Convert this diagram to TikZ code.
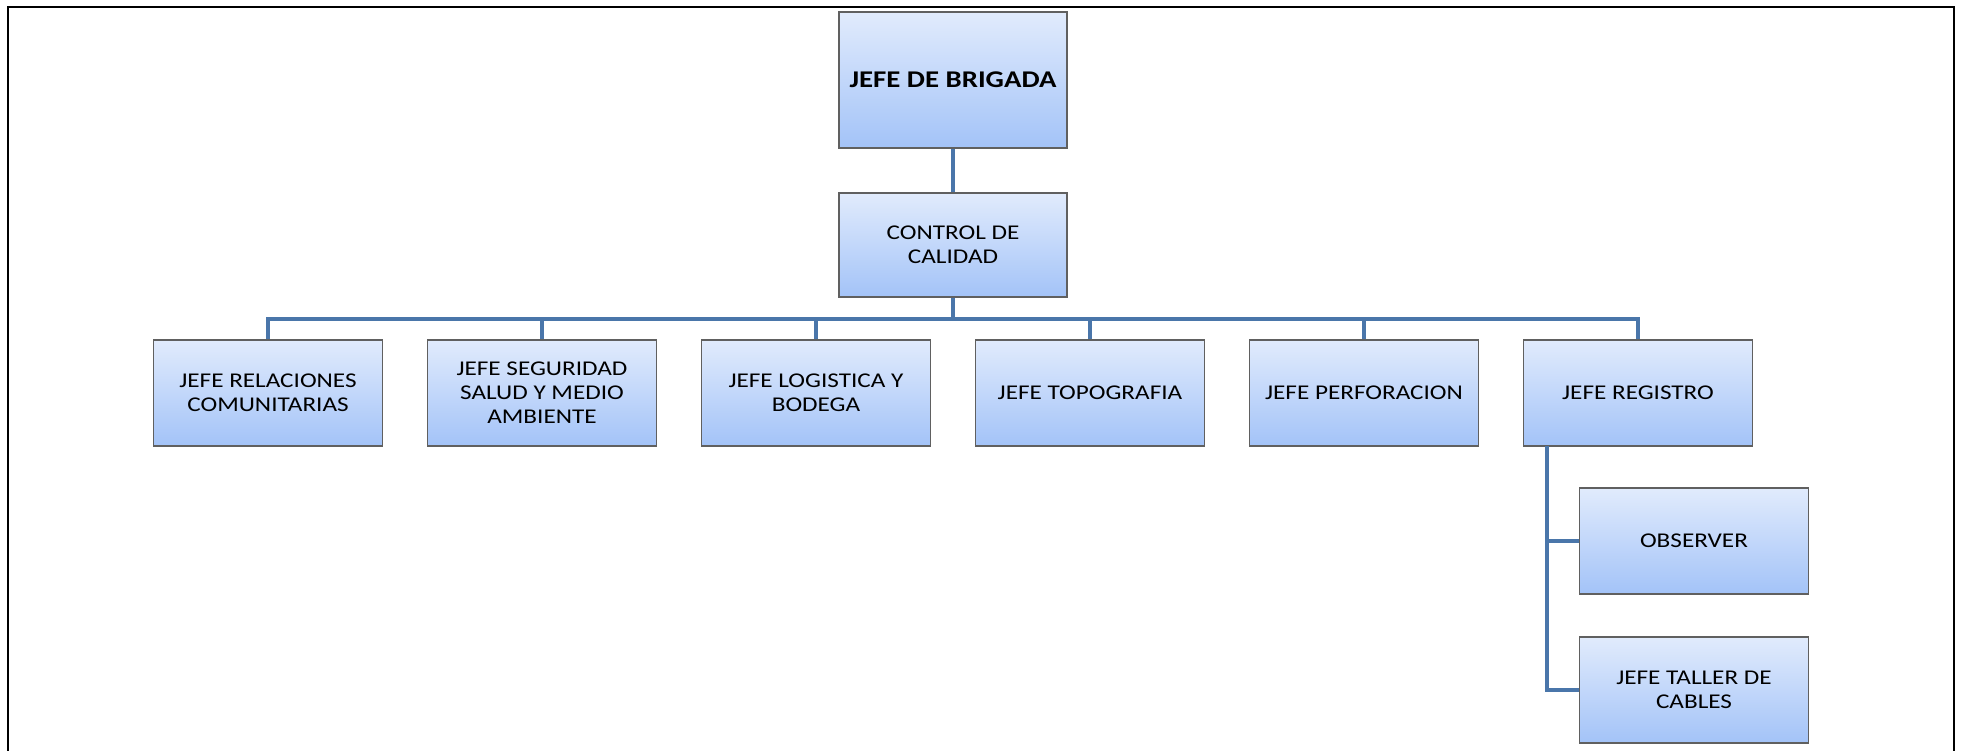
\documentclass[tikz,border=0pt]{standalone}
\usepackage{fontspec}
\setmainfont{Carlito}
\newfontfamily\boxfont[FakeStretch=1.2]{Carlito}
\begin{document}
\begin{tikzpicture}[x=1pt,y=1pt,
  box/.style={draw=gray!75!black, line width=1.2pt, top color=boxtop, bottom color=boxbot,
    minimum width=229pt, minimum height=106pt, inner sep=0pt, align=center,
    font=\boxfont\fontsize{21}{24}\selectfont},
  link/.style={draw=linkblue, line width=4pt}]
\definecolor{boxtop}{HTML}{E1EBFC}
\definecolor{boxbot}{HTML}{A3C3F8}
\definecolor{linkblue}{HTML}{4A76AA}
\useasboundingbox (0,0) rectangle (1966,-751);
% open frame: left, top and right sides
\draw[line width=2.6pt] (8,-751) -- (8,-7) -- (1954,-7) -- (1954,-751);

% boxes
\node[box, minimum width=228pt, minimum height=136pt, font=\boxfont\fontsize{24}{28}\selectfont\bfseries]
  (jefe) at (953,-80) {JEFE DE BRIGADA};
\node[box, minimum width=228pt, minimum height=104pt] (ctrl) at (953,-245) {CONTROL DE\\CALIDAD};
\node[box] (rel) at (268,-393) {JEFE RELACIONES\\COMUNITARIAS};
\node[box] (seg) at (542,-393) {JEFE SEGURIDAD\\SALUD Y MEDIO\\AMBIENTE};
\node[box] (log) at (816,-393) {JEFE LOGISTICA Y\\BODEGA};
\node[box] (top) at (1090,-393) {JEFE TOPOGRAFIA};
\node[box] (per) at (1364,-393) {JEFE PERFORACION};
\node[box] (reg) at (1638,-393) {JEFE REGISTRO};
\node[box] (obs) at (1694,-541) {OBSERVER};
\node[box] (tal) at (1694,-690) {JEFE TALLER DE\\CABLES};

% connectors
\coordinate (bar) at (953,-319);
\coordinate (spine) at (1547,-446);
\draw[link] (jefe.south) -- (ctrl.north);
\foreach \c in {rel,seg,log,top,per,reg}
  \draw[link, line join=miter] (ctrl.south) -- (bar) -| (\c.north);
\draw[link] (spine) |- (obs.west);
\draw[link, line join=miter] (spine) |- (tal.west);
\end{tikzpicture}
\end{document}
